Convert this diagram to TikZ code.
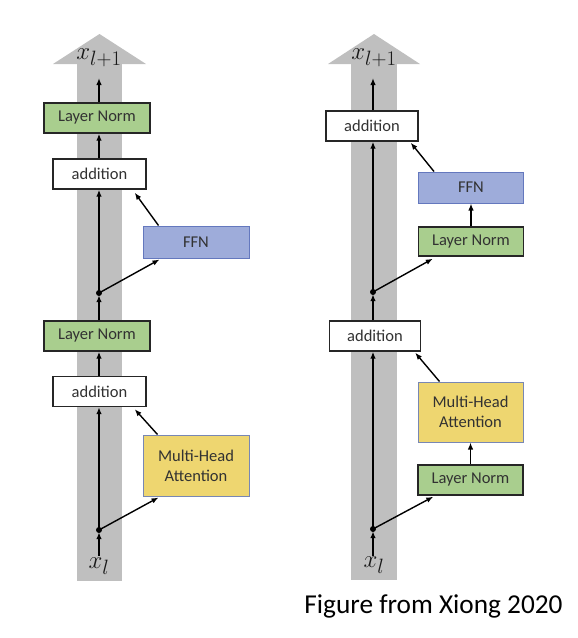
\documentclass[tikz,border=0pt]{standalone}
\usepackage{fontspec}
\setmainfont{Carlito}
\usetikzlibrary{arrows.meta,calc}
\definecolor{colgray}{RGB}{191,191,191}
\definecolor{lngreen}{RGB}{169,206,142}
\definecolor{ffnblue}{RGB}{158,172,218}
\definecolor{ffnedge}{RGB}{100,120,190}
\definecolor{mhayellow}{RGB}{238,214,112}
\definecolor{mhaedge}{RGB}{120,135,180}
\definecolor{txt}{RGB}{50,50,50}
\tikzset{
  box/.style={draw=black!85, line width=1.4pt, text=txt, font=\fontsize{16.5}{18}\selectfont, inner sep=0pt, align=center},
  addbox/.style={box, fill=white, minimum width=93pt, minimum height=30pt},
  lnbox/.style={box, fill=lngreen, minimum width=106pt, minimum height=30pt},
  ffnbox/.style={box, fill=ffnblue, draw=ffnedge, line width=1pt, minimum width=106pt, minimum height=32pt},
  mhabox/.style={box, fill=mhayellow, draw=mhaedge, line width=1pt, minimum width=106pt, minimum height=61pt},
  arr/.style={-{Latex[length=7pt,width=5.5pt]}, line width=1.4pt, black},
  dotn/.style={circle, fill=black, inner sep=0pt, minimum size=6pt},
  col/.style={fill=colgray, draw=none},
  xlab/.style={inner sep=0pt, font=\fontsize{29}{32}\selectfont, text=black!90}
}
\begin{document}
\begin{tikzpicture}[x=1pt,y=-1pt]
\useasboundingbox (0,0) rectangle (578,638);
% ---------- left ----------
\fill[col] (77,64) rectangle (122,581);
\fill[col] (53,64) -- (146,64) -- (99.5,34) -- cycle;
\node[xlab] (xo1) at (99,58) {$x_{l+1}$};
\node[xlab] (xl1) at (99,566) {$x_l$};
\coordinate (top1) at (99,78);
\coordinate (bot1) at (99,556);
\node[lnbox]  (ln1)  at (97,118)    {Layer Norm};
\node[addbox] (add1) at (99.5,174)  {addition};
\node[ffnbox] (ffn1) at (196,242)   {FFN};
\node[dotn]   (d1)   at (99,293)    {};
\node[lnbox]  (ln2)  at (97,336)    {Layer Norm};
\node[addbox] (add2) at (99.5,391.5){addition};
\node[mhabox] (mha1) at (196,465.5) {Multi-Head\\[2pt]Attention};
\node[dotn]   (d2)   at (99,530)    {};
\draw[arr] (ln1.north -| top1) -- (top1);
\draw[arr] (add1.north -| top1) -- (ln1.south -| top1);
\draw[arr] (d1.center) -- (add1.south -| d1);
\draw[arr] (d1.center) -- ($(ffn1.south west)+(17,1)$);
\draw[arr] ($(ffn1.north west)+(16,0)$) -- ($(add1.south east)+(-12,3)$);
\draw[arr] (ln2.north -| d1) -- ($(d1.south)+(0,-1)$);
\draw[arr] (add2.north -| d1) -- (ln2.south -| d1);
\draw[arr] (d2.center) -- (add2.south -| d2);
\draw[arr] (d2.center) -- ($(mha1.south west)+(16,1)$);
\draw[arr] ($(mha1.north west)+(15,0)$) -- ($(add2.south east)+(-12,2)$);
\draw[arr] (bot1) -- ($(d2.south)+(0,-1)$);
% ---------- right ----------
\fill[col] (351,64) rectangle (397,580);
\fill[col] (328,64) -- (420,64) -- (374,34) -- cycle;
\node[xlab] (xo2) at (374,58) {$x_{l+1}$};
\node[xlab] (xl2) at (374,565) {$x_l$};
\coordinate (top2) at (373,78);
\coordinate (bot2) at (373,556);
\node[addbox, minimum width=92pt] (add3) at (372,126) {addition};
\node[ffnbox, minimum width=105pt, minimum height=31pt] (ffn2) at (471,187.5) {FFN};
\node[lnbox, minimum width=105pt, minimum height=29pt] (ln3) at (471,241.5) {Layer Norm};
\node[dotn] (d3) at (373,292) {};
\node[addbox, minimum width=91pt] (add4) at (375,336) {addition};
\node[mhabox, minimum width=105pt, minimum height=60pt] (mha2) at (470.5,412) {Multi-Head\\[2pt]Attention};
\node[lnbox, minimum width=105pt] (ln4) at (470.5,480) {Layer Norm};
\node[dotn] (d4) at (373,529) {};
\draw[arr] (add3.north -| top2) -- (top2);
\draw[arr] (d3.center) -- (add3.south -| d3);
\draw[arr] (d3.center) -- ($(ln3.south west)+(15,2)$);
\draw[arr] (ln3.north) -- (ffn2.south);
\draw[arr] ($(ffn2.north west)+(16,0)$) -- ($(add3.south east)+(-8,1)$);
\draw[arr] (add4.north -| d3) -- ($(d3.south)+(0,-1)$);
\draw[arr] (d4.center) -- (add4.south -| d4);
\draw[arr] (d4.center) -- ($(ln4.south west)+(16,1)$);
\draw[arr] (ln4.north) -- (mha2.south);
\draw[arr] ($(mha2.north west)+(22,0)$) -- ($(add4.south east)+(-6,1)$);
\draw[arr] (bot2) -- ($(d4.south)+(0,-1)$);
% caption
\node[font=\fontsize{27.3}{30}\selectfont, text=black, inner sep=0pt] (cap) at (433.5,606) {Figure from Xiong 2020};
\end{tikzpicture}
\end{document}
